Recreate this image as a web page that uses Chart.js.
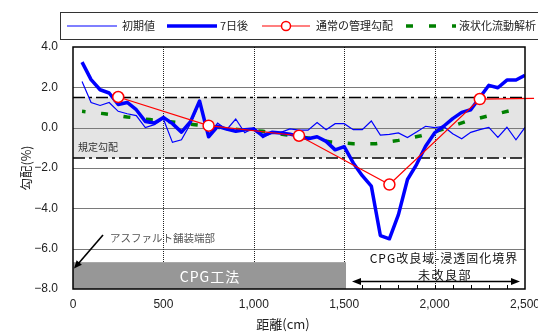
<!DOCTYPE html>
<html>
<head>
<meta charset="utf-8">
<script src="https://cdn.jsdelivr.net/npm/chart.js@4.4.1/dist/chart.umd.min.js"></script>
<style>
html, body { margin: 0; padding: 0; background: #fff; }
#wrap { width: 538px; height: 332px; }
</style>
</head>
<body>
<div id="wrap"><canvas id="chart" width="538" height="332"></canvas></div>
<script>
// data (distance in cm, gradient in %)
var distance = [50, 100, 150, 200, 250, 300, 350, 400, 450, 500,
                550, 600, 650, 700, 750, 800, 850, 900, 950, 1000,
                1050, 1100, 1150, 1200, 1250, 1300, 1350, 1400, 1450, 1500,
                1550, 1600, 1650, 1700, 1750, 1800, 1850, 1900, 1950, 2000,
                2050, 2100, 2150, 2200, 2250, 2300, 2350, 2400, 2450, 2500];
var initialValues = [2.29, 1.25, 1.10, 1.25, 0.81, 0.69, 0.60, 0.00, 0.15, 0.43,
                     -0.73, -0.60, 0.20, 1.24, -0.35, 0.23, -0.10, 0.43, -0.25, 0.00,
                     -0.50, -0.25, -0.23, -0.06, -0.12, -0.12, 0.26, -0.10, 0.20, 0.20,
                     -0.10, -0.10, 0.33, -0.37, -0.33, -0.26, -0.49, -0.22, 0.07, 0.00,
                     0.06, -0.30, -0.55, -0.23, -0.10, 0.01, -0.48, 0.02, -0.60, 0.01];
var day7Values = [3.25, 2.38, 1.88, 1.72, 1.15, 1.25, 0.89, 0.31, 0.23, 0.51,
                  0.20, -0.22, 0.30, 1.32, -0.45, 0.07, -0.07, -0.18, -0.10, -0.07,
                  -0.40, -0.23, -0.26, -0.32, -0.43, -0.55, -0.45, -0.68, -1.10, -0.94,
                  -1.75, -2.38, -2.90, -5.35, -5.51, -4.31, -2.57, -1.83, -0.92, -0.26,
                  0.07, 0.45, 0.76, 0.89, 1.50, 2.10, 1.98, 2.36, 2.36, 2.60];
var managementX = [250, 750, 1250, 1750, 2250, 2550];
var managementValues = [1.52, 0.10, -0.40, -2.82, 1.42, 1.45];
var analysisX = [50, 175, 300, 425, 550, 675, 800, 925, 1050, 1175,
                 1300, 1425, 1550, 1675, 1800, 1925, 2050, 2175, 2300, 2425];
var analysisValues = [0.81, 0.69, 0.53, 0.40, 0.28, 0.15, 0.02, -0.10, -0.18, -0.35,
                      -0.51, -0.71, -0.80, -0.80, -0.63, -0.40, -0.07, 0.31, 0.59, 0.86];
var xTicks = [0, 500, 1000, 1500, 2000, 2500];
var yTicks = [4, 2, 0, -2, -4, -6, -8];
var seriesNames = ['初期値', '7日後', '通常の管理勾配', '液状化流動解析'];

var JP = '"Noto Sans CJK JP", "Noto Sans", sans-serif';
var NUM = '"Liberation Sans", Arial, sans-serif';

function pairs(xs, ys) {
    return xs.map(function (x, i) { return { x: x, y: ys[i] }; });
}

function hline(ctx, x1, x2, y) {
    ctx.beginPath(); ctx.moveTo(x1, y); ctx.lineTo(x2, y); ctx.stroke();
}
function vline(ctx, x, y1, y2) {
    ctx.beginPath(); ctx.moveTo(x, y1); ctx.lineTo(x, y2); ctx.stroke();
}
function arrowHead(ctx, fx, fy, tx, ty, len, half) {
    var ang = Math.atan2(ty - fy, tx - fx);
    ctx.beginPath();
    ctx.moveTo(tx, ty);
    ctx.lineTo(tx - len * Math.cos(ang) + half * Math.sin(ang), ty - len * Math.sin(ang) - half * Math.cos(ang));
    ctx.lineTo(tx - len * Math.cos(ang) - half * Math.sin(ang), ty - len * Math.sin(ang) + half * Math.cos(ang));
    ctx.closePath();
    ctx.fill();
}

var decor = {
    id: 'decor',
    beforeDraw: function (chart) {
        var ctx = chart.ctx;
        ctx.save();
        ctx.fillStyle = '#fff';
        ctx.fillRect(0, 0, chart.width, chart.height);
        ctx.restore();
    },
    beforeDatasetsDraw: function (chart) {
        var ctx = chart.ctx, a = chart.chartArea, xs = chart.scales.x, ys = chart.scales.y;
        ctx.save();
        // 規定勾配 band
        var b1 = ys.getPixelForValue(1.5), b2 = ys.getPixelForValue(-1.5);
        ctx.fillStyle = '#e4e4e4';
        ctx.fillRect(a.left, b1, a.right - a.left, b2 - b1);

        // horizontal grid
        ctx.strokeStyle = '#7a7a7a';
        ctx.lineWidth = 1;
        yTicks.forEach(function (v) {
            if (v === 4 || v === -8) return;
            hline(ctx, a.left, a.right, Math.round(ys.getPixelForValue(v)) + 0.5);
        });
        // vertical dotted grid
        ctx.strokeStyle = '#222';
        ctx.setLineDash([1, 1]);
        xTicks.forEach(function (v) {
            if (v === 0 || v === 2500) return;
            vline(ctx, Math.round(xs.getPixelForValue(v)) + 0.5, a.top, a.bottom);
        });
        // minor ticks along the bottom
        ctx.setLineDash([]);
        ctx.strokeStyle = '#000';
        for (var m = 100; m < 2500; m += 100) {
            vline(ctx, Math.round(xs.getPixelForValue(m)) + 0.5, a.bottom - 4, a.bottom);
        }
        // dash-dot limits
        ctx.setLineDash([12, 4, 3, 4]);
        ctx.lineWidth = 1.5;
        ctx.strokeStyle = '#000';
        hline(ctx, a.left, a.right, b1);
        hline(ctx, a.left, a.right, b2);
        ctx.setLineDash([]);

        ctx.fillStyle = '#333';
        ctx.font = '10px ' + JP;
        ctx.textBaseline = 'middle';
        ctx.fillText('規定勾配', a.left + 5, ys.getPixelForValue(-0.97));
        ctx.restore();
    },
    afterDatasetsDraw: function (chart) {
        var ctx = chart.ctx, a = chart.chartArea, xs = chart.scales.x, ys = chart.scales.y;
        ctx.save();

        // CPG工法 bar
        var barTop = ys.getPixelForValue(-6.67);
        var barRight = xs.getPixelForValue(1510);
        ctx.fillStyle = '#979797';
        ctx.fillRect(a.left, barTop, barRight - a.left, a.bottom - barTop);
        ctx.fillStyle = '#fff';
        ctx.font = '14px ' + JP;
        ctx.textAlign = 'center';
        ctx.textBaseline = 'middle';
        ctx.letterSpacing = '1px';
        ctx.fillText('CPG工法', 210, (barTop + a.bottom) / 2 + 1);

        // right side labels
        ctx.fillStyle = '#111';
        ctx.font = '12px ' + JP;
        ctx.letterSpacing = '1px';
        ctx.fillText('CPG改良域-浸透固化境界', 444, 258);
        ctx.letterSpacing = '1.5px';
        ctx.fillText('未改良部', 445, 275);
        ctx.letterSpacing = '0px';
        ctx.strokeStyle = '#000';
        ctx.fillStyle = '#000';
        ctx.lineWidth = 1.5;
        hline(ctx, 356, 515, 281.5);
        arrowHead(ctx, 400, 281.5, 352, 281.5, 9, 3.5);
        arrowHead(ctx, 480, 281.5, 520, 281.5, 9, 3.5);

        // asphalt edge annotation
        ctx.lineWidth = 1.6;
        ctx.beginPath(); ctx.moveTo(103, 235); ctx.lineTo(78, 264); ctx.stroke();
        arrowHead(ctx, 103, 235, 74, 268.5, 8, 3.5);
        ctx.fillStyle = '#555';
        ctx.font = '10.5px ' + JP;
        ctx.textAlign = 'left';
        ctx.fillText('アスファルト舗装端部', 110, 238);

        // frame
        ctx.strokeStyle = '#000';
        ctx.lineWidth = 1.5;
        ctx.strokeRect(a.left, a.top, a.right - a.left, a.bottom - a.top);

        // axis titles
        ctx.fillStyle = '#222';
        ctx.font = '13px ' + JP;
        ctx.textAlign = 'center';
        ctx.fillText('距離(cm)', 283, 324);
        ctx.save();
        ctx.translate(26, 168);
        ctx.rotate(-Math.PI / 2);
        ctx.font = '12.5px ' + JP;
        ctx.fillText('勾配(%)', 0, 0);
        ctx.restore();

        // legend
        var cy = 26;
        ctx.fillStyle = '#fff';
        ctx.fillRect(60.5, 12.5, 500, 27);
        ctx.strokeStyle = '#333';
        ctx.lineWidth = 1;
        ctx.strokeRect(60.5, 12.5, 500, 27);
        ctx.strokeStyle = '#0000ff';
        ctx.lineWidth = 1.2;
        hline(ctx, 67, 117, cy);
        ctx.lineWidth = 3.5;
        hline(ctx, 167, 217, cy);
        ctx.strokeStyle = '#ff0000';
        ctx.lineWidth = 1.2;
        hline(ctx, 262, 310, cy);
        ctx.beginPath(); ctx.arc(286, cy, 4.5, 0, Math.PI * 2);
        ctx.fillStyle = '#fff'; ctx.fill();
        ctx.lineWidth = 1.5; ctx.stroke();
        ctx.strokeStyle = '#008000';
        ctx.lineWidth = 3.5;
        ctx.setLineDash([7, 16]);
        hline(ctx, 406, 456, cy);
        ctx.setLineDash([]);
        ctx.fillStyle = '#222';
        ctx.font = '11px ' + JP;
        ctx.textAlign = 'left';
        ctx.fillText(seriesNames[0], 122, cy);
        ctx.fillText(seriesNames[1], 220, cy);
        ctx.fillText(seriesNames[2], 316, cy);
        ctx.fillText(seriesNames[3], 459, cy);
        ctx.restore();
    }
};

new Chart(document.getElementById('chart'), {
    type: 'line',
    data: {
        datasets: [
            {
                label: seriesNames[2],
                data: pairs(managementX, managementValues),
                borderColor: '#ff0000',
                borderWidth: 1.2,
                pointRadius: [5.5, 5.5, 5.5, 5.5, 5.5, 0],
                pointBackgroundColor: '#fff',
                pointBorderColor: '#ff0000',
                pointBorderWidth: 1.5,
                clip: { left: 5, top: 5, right: 10, bottom: 5 },
                order: 0
            },
            {
                label: seriesNames[1],
                data: pairs(distance, day7Values),
                borderColor: '#0000ff',
                borderWidth: 3.5,
                borderJoinStyle: 'round',
                pointRadius: 0,
                order: 1
            },
            {
                label: seriesNames[0],
                data: pairs(distance, initialValues),
                borderColor: '#0000ff',
                borderWidth: 1.2,
                pointRadius: 0,
                order: 2
            },
            {
                label: seriesNames[3],
                data: pairs(analysisX, analysisValues),
                borderColor: '#008000',
                borderWidth: 3.5,
                borderDash: [7, 15.6],
                borderDashOffset: 3.5,
                borderCapStyle: 'butt',
                pointRadius: 0,
                order: 3
            }
        ]
    },
    options: {
        responsive: false,
        animation: false,
        events: [],
        layout: { padding: { top: 47, right: 13, left: 0, bottom: 0 } },
        plugins: { legend: { display: false }, tooltip: { enabled: false } },
        elements: { line: { tension: 0, fill: false } },
        scales: {
            x: {
                type: 'linear',
                min: 0,
                max: 2500,
                afterBuildTicks: function (s) { s.ticks = xTicks.map(function (v) { return { value: v }; }); },
                afterFit: function (s) { s.height = 43; s.paddingLeft = 0; s.paddingRight = 0; },
                ticks: {
                    autoSkip: false,
                    maxRotation: 0,
                    padding: 8,
                    color: '#222',
                    font: { family: NUM, size: 12 },
                    callback: function (v) { return v.toLocaleString('en-US'); }
                },
                grid: { display: false, drawTicks: false },
                border: { display: false }
            },
            y: {
                type: 'linear',
                min: -8,
                max: 4,
                afterBuildTicks: function (s) { s.ticks = yTicks.map(function (v) { return { value: v }; }); },
                afterFit: function (s) { s.width = 73; s.paddingTop = 0; s.paddingBottom = 0; },
                ticks: {
                    padding: 15,
                    color: '#222',
                    font: { family: NUM, size: 12 },
                    callback: function (v) { return (v < 0 ? '\u2212' : '') + Math.abs(v).toFixed(1); }
                },
                grid: { display: false, drawTicks: false },
                border: { display: false }
            }
        }
    },
    plugins: [decor]
});
</script>
</body>
</html>
